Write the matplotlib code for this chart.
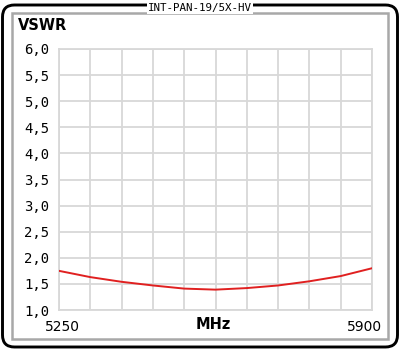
import matplotlib
matplotlib.use("Agg")
import matplotlib.pyplot as plt
import matplotlib.transforms as mtrans
from matplotlib.patches import FancyBboxPatch, Rectangle

title = "INT-PAN-19/5X-HV"
y_title = "VSWR"
x_unit = "MHz"
freq = [5250, 5315, 5380, 5445, 5510, 5575, 5640, 5705, 5770, 5835, 5900]
vswr = [1.75, 1.63, 1.54, 1.47, 1.41, 1.39, 1.42, 1.47, 1.55, 1.65, 1.80]
x_ticks = [5250, 5900]
x_grid = [5250 + 65 * i for i in range(11)]
y_ticks = [1.0 + 0.5 * i for i in range(11)]
y_labels = [f"{v:.1f}".replace(".", ",") for v in y_ticks]

W, H = 400, 351
fig = plt.figure(figsize=(W / 100, H / 100), dpi=100)
fig.patch.set_facecolor("white")

def fx(px):
    return px / W

def fy(py):
    return 1 - py / H

# outer rounded border
outer = FancyBboxPatch((fx(2.5), fy(347)), fx(395), (342) / H,
                       boxstyle="round,pad=0,rounding_size=0.03",
                       transform=fig.transFigure, fill=False,
                       edgecolor="black", linewidth=2.1, mutation_aspect=W / H)
fig.patches.append(outer)
# inner gray frame
inner = Rectangle((fx(12), fy(339)), fx(376), (339 - 13) / H,
                  transform=fig.transFigure, fill=False,
                  edgecolor="#a8a8a8", linewidth=1.8)
fig.patches.append(inner)

# title box
fig.text(0.5, fy(8), title, ha="center", va="center",
         family="DejaVu Sans Mono", fontsize=7.8, color="black",
         bbox=dict(facecolor="white", edgecolor="none", pad=0.8))

ax = fig.add_axes([fx(59), fy(310), fx(313), 261 / H])
ax.plot(freq, vswr, color="#e02020", linewidth=1.4, zorder=3)
ax.set_xlim(5250, 5900)
ax.set_ylim(1.0, 6.0)
ax.set_xticks(x_grid, minor=True)
ax.set_xticks(x_ticks)
ax.set_xticklabels([str(t) for t in x_ticks])
ax.set_yticks(y_ticks)
ax.set_yticklabels(y_labels, family="DejaVu Sans Mono", fontsize=10)
ax.tick_params(length=0, which="both", pad=7)
ax.tick_params(axis="x", labelsize=10, pad=7)
ax.grid(True, which="both", color="#d8d8d8", linewidth=1.3, zorder=0)
for s in ax.spines.values():
    s.set_color("#d8d8d8")
    s.set_linewidth(1.3)

# shift x tick labels
offs = [3.5 / 100, -7 / 100]
for lbl, o in zip(ax.get_xticklabels(), offs):
    lbl.set_transform(lbl.get_transform() + mtrans.ScaledTranslation(o, 0, fig.dpi_scale_trans))

ax.text(0.5, -0.0, x_unit, transform=ax.transAxes + mtrans.ScaledTranslation(-2.5 / 100, -7 / 100, fig.dpi_scale_trans),
        ha="center", va="top", fontsize=10.5, fontweight="bold", family="DejaVu Sans")

fig.text(fx(17.5), fy(26), y_title, ha="left", va="center", fontsize=10.5,
         fontweight="bold", family="DejaVu Sans")

fig.savefig("out.png", dpi=100)
